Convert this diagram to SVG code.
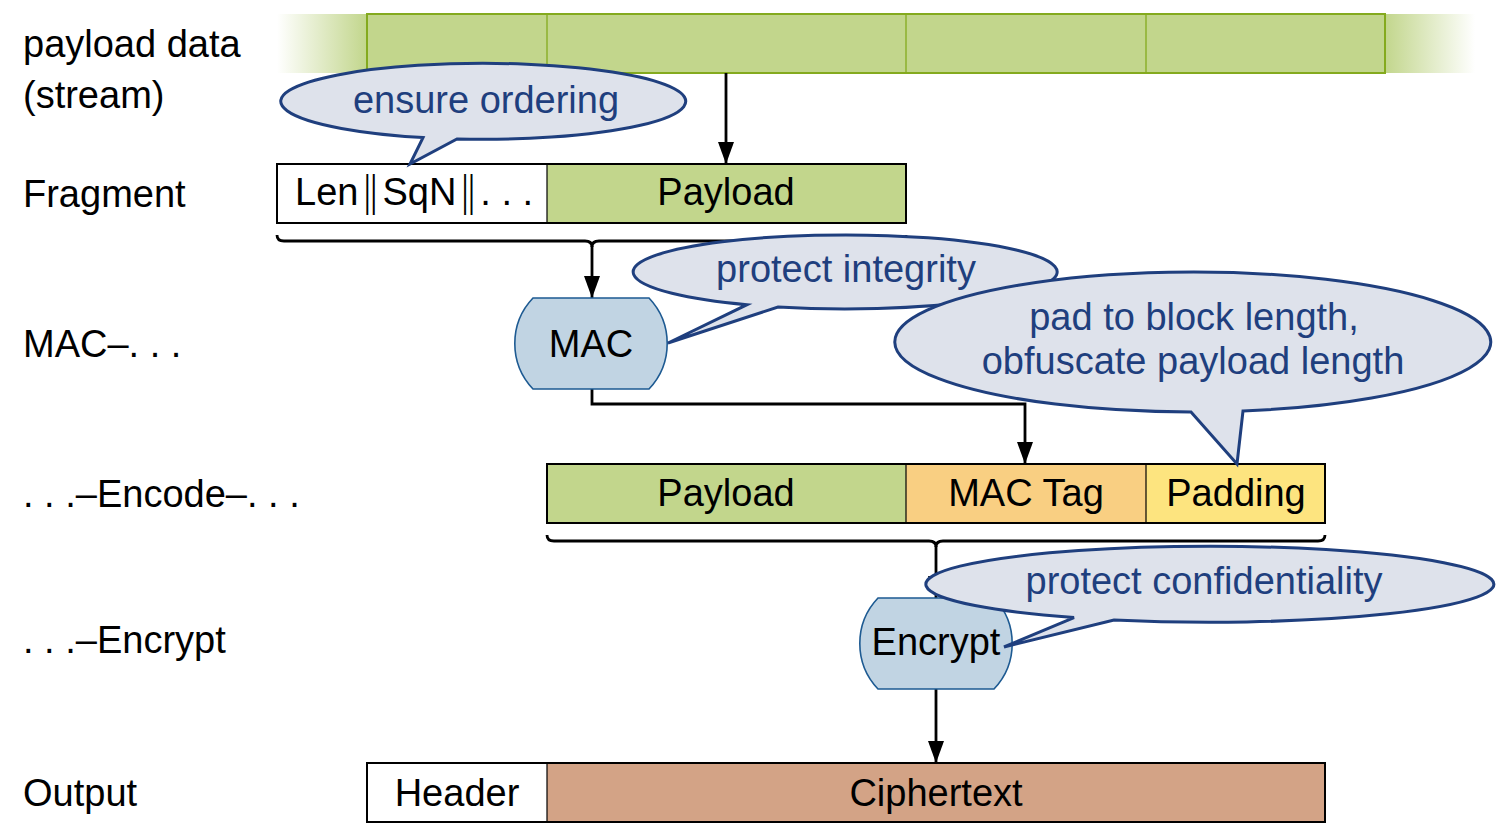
<svg xmlns="http://www.w3.org/2000/svg" width="1498" height="838" viewBox="0 0 1498 838">
<style>
text{font-family:"Liberation Sans","DejaVu Sans",Arial,sans-serif;font-size:38px;fill:#000}
.lbl{text-anchor:start}
.c{text-anchor:middle}
.bt{fill:#1f3f7e;text-anchor:middle}
.bub{fill:#dee2eb;stroke:#1f3f7e;stroke-width:3;stroke-linejoin:miter}
.box{stroke:#000;stroke-width:2}
.div{stroke:#000;stroke-width:1.2}
.g{fill:#c2d68c}
.sbox{fill:#c2d68c;stroke:#84aa1e;stroke-width:2}
.sdiv{stroke:#84aa1e;stroke-width:1.3}
.proc{fill:#c1d4e3;stroke:#1d5a92;stroke-width:1.6}
.ln{fill:none;stroke:#000;stroke-width:2.8}
.bar{font-family:"DejaVu Sans",sans-serif;font-size:40px;font-weight:100}
</style>
<defs>
<marker id="ah" markerWidth="22" markerHeight="16" refX="22" refY="8" orient="auto" markerUnits="userSpaceOnUse" viewBox="0 0 22 16">
<path d="M0,0 L22,8 L0,16 Z" fill="#000"/>
</marker>
<linearGradient id="fadeL" x1="0" y1="0" x2="1" y2="0">
<stop offset="0" stop-color="#c2d68c" stop-opacity="0"/>
<stop offset="1" stop-color="#c2d68c" stop-opacity="1"/>
</linearGradient>
<linearGradient id="fadeR" x1="0" y1="0" x2="1" y2="0">
<stop offset="0" stop-color="#c2d68c" stop-opacity="1"/>
<stop offset="1" stop-color="#c2d68c" stop-opacity="0"/>
</linearGradient>
</defs>

<g id="labels">
<text class="lbl" x="23" y="57">payload data</text>
<text class="lbl" x="23" y="108">(stream)</text>
<text class="lbl" x="23" y="207">Fragment</text>
<text class="lbl" x="23" y="357">MAC–. . .</text>
<text class="lbl" x="23" y="507">. . .–Encode–. . .</text>
<text class="lbl" x="23" y="653">. . .–Encrypt</text>
<text class="lbl" x="23" y="806">Output</text>
</g>

<g id="stream">
<rect x="277" y="14" width="90" height="59" fill="url(#fadeL)"/>
<rect x="1385" y="14" width="90" height="59" fill="url(#fadeR)"/>
<rect class="sbox" x="367" y="14" width="1018" height="59"/>
<line class="sdiv" x1="547" y1="14" x2="547" y2="73"/>
<line class="sdiv" x1="906" y1="14" x2="906" y2="73"/>
<line class="sdiv" x1="1146" y1="14" x2="1146" y2="73"/>
</g>

<g id="fragment">
<rect x="277" y="164" width="270" height="59" fill="#fff"/>
<rect class="g" x="547" y="164" width="359" height="59"/>
<rect class="box" x="277" y="164" width="629" height="59" fill="none"/>
<line class="div" x1="547" y1="164" x2="547" y2="223"/>
<text x="295" y="205">Len<tspan class="bar" dx="2">‖</tspan><tspan dx="2">SqN</tspan><tspan class="bar" dx="2">‖</tspan><tspan dx="2">. . .</tspan></text>
<text class="c" x="726" y="205">Payload</text>
</g>

<g id="encode">
<rect class="g" x="547" y="464" width="359" height="59"/>
<rect x="906" y="464" width="240" height="59" fill="#f9cf82"/>
<rect x="1146" y="464" width="179" height="59" fill="#fde47f"/>
<rect class="box" x="547" y="464" width="778" height="59" fill="none"/>
<line class="div" x1="906" y1="464" x2="906" y2="523"/>
<line class="div" x1="1146" y1="464" x2="1146" y2="523"/>
<text class="c" x="726" y="506">Payload</text>
<text class="c" x="1026" y="506">MAC Tag</text>
<text class="c" x="1236" y="506">Padding</text>
</g>

<g id="output">
<rect x="367" y="763" width="180" height="59" fill="#fff"/>
<rect x="547" y="763" width="778" height="59" fill="#d3a386"/>
<rect class="box" x="367" y="763" width="958" height="59" fill="none"/>
<line class="div" x1="547" y1="763" x2="547" y2="822"/>
<text class="c" x="457" y="806">Header</text>
<text class="c" x="936" y="806">Ciphertext</text>
</g>

<g id="connectors">
<line class="ln" x1="726" y1="73" x2="726" y2="164" marker-end="url(#ah)"/>
<path class="ln" d="M277,235 Q277,241 284,241 L585,241 Q592,241 592,247 Q592,241 599,241 L899,241 Q906,241 906,235"/>
<line class="ln" x1="592" y1="246" x2="592" y2="298" marker-end="url(#ah)"/>
<path class="ln" d="M592,389 L592,404 L1025,404 L1025,464" marker-end="url(#ah)"/>
<path class="ln" d="M547,535 Q547,541 554,541 L929,541 Q936,541 936,547 Q936,541 943,541 L1318,541 Q1325,541 1325,535"/>
<line class="ln" x1="936" y1="546" x2="936" y2="598" marker-end="url(#ah)"/>
<line class="ln" x1="936" y1="689" x2="936" y2="763" marker-end="url(#ah)"/>
</g>

<g id="mac">
<path class="proc" d="M533,298 L649,298 A66 66 0 0 1 649,389 L533,389 A66 66 0 0 1 533,298 Z"/>
<text class="c" x="591" y="357">MAC</text>
</g>

<g id="encrypt">
<path class="proc" d="M878,598 L994,598 A66 66 0 0 1 994,689 L878,689 A66 66 0 0 1 878,598 Z"/>
<text class="c" x="936" y="655">Encrypt</text>
</g>

<g id="bubble-ordering">
<path class="bub" d="M457,139 A202.5 38 0 1 0 423,137.6 L410,164 Z"/>
<text class="bt" x="486" y="113">ensure ordering</text>
</g>

<g id="bubble-integrity">
<path class="bub" d="M778,307 A212 37 0 1 0 747,304.7 L668,343 Z"/>
<text class="bt" x="846" y="282">protect integrity</text>
</g>

<g id="bubble-padding">
<path class="bub" d="M1243,411 A298 70 0 1 0 1191,412 L1237,464 Z"/>
<text class="bt" x="1194" y="330">pad to block length,</text>
<text class="bt" x="1193" y="374">obfuscate payload length</text>
</g>

<g id="bubble-confidentiality">
<path class="bub" d="M1114,620 A284 38 0 1 0 1074,617.6 L1004,647 Z"/>
<text class="bt" x="1204" y="594">protect confidentiality</text>
</g>
</svg>
